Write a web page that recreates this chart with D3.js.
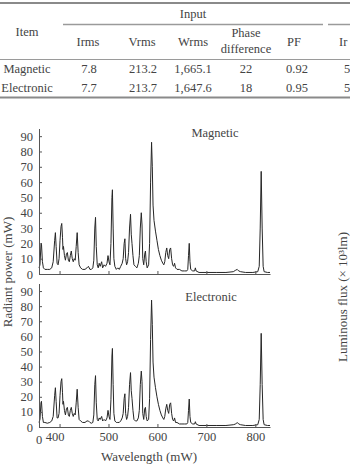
<!DOCTYPE html>
<html>
<head>
<meta charset="utf-8">
<script src="https://cdn.jsdelivr.net/npm/d3@7"></script>
<style>
  html, body { margin: 0; padding: 0; background: #fff; }
  svg { display: block; }
  text { font-family: "Liberation Serif", "Times New Roman", serif; fill: #444; }
</style>
</head>
<body>
<svg id="chart" width="350" height="476"></svg>
<script>
// table contents
const headers = ["Irms", "Vrms", "Wrms", "Phase difference", "PF", "Ir"];
const rowNames = ["Magnetic", "Electronic"];
const rowValues = [
  ["7.8", "213.2", "1,665.1", "22", "0.92", "5"],
  ["7.7", "213.7", "1,647.6", "18", "0.95", "5"]
];

// spectra: [wavelength nm, radiant power mW]
const magnetic = [
  [358,4],[360,6],[362,19],[363,20],[365,8],[367,4],[370,3],[375,3],[380,3],[384,4],
  [387,8],[390,22],[391.5,27],[393,18],[395,7],[397,6],[399,10],[401,22],[403,31],[404.5,33],
  [406,24],[407,16],[408,18],[410,12],[412,9],[414,13],[416,14],[418,9],[420,8],[422,12],
  [424,15],[426,10],[428,8],[430,10],[432,9],[434,18],[436,27],[438,14],[440,6],[443,4],
  [447,3],[452,3],[456,4],[459,5],[462,3],[465,3],[468,4],[470,9],[472,30],[473.5,37],
  [475,18],[477,6],[479,4],[481,7],[483,5],[486,8],[488,4],[491,6],[494,5],[497,7],
  [499,12],[501,8],[503,6],[505,20],[507,50],[508,55],[509.5,30],[511,10],[513,5],[516,3],
  [519,4],[522,3],[525,5],[528,7],[530,10],[532,20],[533.5,23],[535,10],[537,6],[539,8],
  [541,14],[543,30],[545,39],[546.5,26],[548,20],[550,12],[552,6],[555,5],[558,4],[561,7],
  [563,12],[565,30],[567,40],[568.5,32],[570,10],[572,6],[574,13],[575.5,15],[577,8],[579,4],
  [582,6],[584,20],[586,60],[588,86],[589.5,70],[591,45],[593,35],[596,28],[599,22],[602,16],
  [605,12],[608,9],[611,7],[613,6],[615,8],[617,14],[619,17],[621,12],[623,10],[625,16],
  [627,17],[629,10],[631,6],[633,5],[635,7],[637,4],[640,3],[645,3],[650,2],[655,2],
  [660,2],[662,3],[663.5,12],[665,20],[666.5,8],[668,3],[672,2],[676,2],[677.5,4],[679,2],
  [685,1],[700,1],[720,1],[740,1],[755,1.5],[760,2.5],[763,3],[766,2],[770,1.5],[780,1],
  [795,1],[805,1.5],[808,5],[810,30],[812,67],[814,30],[816,5],[818,1.5],[825,1],[830,1]
];
const electronic = [
  [358,3],[360,5],[362,16],[363,17],[365,7],[367,3],[370,3],[375,2.5],[380,3],[384,4],
  [387,7],[390,21],[391.5,26],[393,17],[395,6],[397,6],[399,9],[401,21],[403,30],[404.5,32],
  [406,23],[407,15],[408,17],[410,11],[412,8],[414,12],[416,13],[418,8],[420,7],[422,11],
  [424,13],[426,9],[428,7],[430,9],[432,8],[434,16],[436,25],[438,13],[440,5],[443,4],
  [447,3],[452,3],[456,4],[459,4],[462,3],[465,2.5],[468,3],[470,8],[472,28],[473.5,34],
  [475,16],[477,5],[479,4],[481,6],[483,5],[486,7],[488,4],[491,5],[494,4],[497,6],
  [499,11],[501,7],[503,5],[505,18],[507,47],[508,52],[509.5,28],[511,9],[513,4],[516,3],
  [519,3],[522,3],[525,4],[528,6],[530,9],[532,19],[533.5,22],[535,9],[537,5],[539,7],
  [541,13],[543,28],[545,36],[546.5,24],[548,19],[550,11],[552,5],[555,4],[558,4],[561,6],
  [563,11],[565,28],[567,37],[568.5,30],[570,9],[572,5],[574,12],[575.5,13],[577,7],[579,4],
  [582,5],[584,19],[586,58],[588,84],[589.5,68],[591,43],[593,33],[596,26],[599,20],[602,15],
  [605,11],[608,8],[611,6],[613,5],[615,7],[617,12],[619,15],[621,11],[623,9],[625,15],
  [627,16],[629,9],[631,5],[633,4],[635,6],[637,3],[640,3],[645,2],[650,2],[655,2],
  [660,2],[662,3],[663.5,11],[665,18.5],[666.5,7],[668,3],[672,2],[676,2],[677.5,3.5],[679,2],
  [685,1],[700,1],[720,1],[740,1],[755,1.5],[760,2],[763,3],[766,2],[770,1.5],[780,1],
  [795,1],[805,1.5],[808,5],[810,28],[812,62],[814,28],[816,5],[818,1.5],[825,1],[830,1]
];
const xTicks = [400, 500, 600, 700, 800];
const yTicks = [0, 10, 20, 30, 40, 50, 60, 70, 80, 90];

const svg = d3.select("#chart");

// ---- table ----
const tbl = svg.append("g").attr("class", "table");
const colX = [88, 142, 193, 246, 294, 339];
const valX = [89, 143, 193, 246, 297, 344];

tbl.append("line").attr("x1", 0).attr("x2", 350).attr("y1", 3).attr("y2", 3)
  .attr("stroke", "#8a8a8a").attr("stroke-width", 2);
tbl.append("line").attr("x1", 63).attr("x2", 323).attr("y1", 24.5).attr("y2", 24.5)
  .attr("stroke", "#9a9a9a").attr("stroke-width", 1.5);
tbl.append("line").attr("x1", 328).attr("x2", 350).attr("y1", 24.5).attr("y2", 24.5)
  .attr("stroke", "#9a9a9a").attr("stroke-width", 1.5);
tbl.append("line").attr("x1", 0).attr("x2", 350).attr("y1", 59.5).attr("y2", 59.5)
  .attr("stroke", "#9a9a9a").attr("stroke-width", 1);
tbl.append("line").attr("x1", 0).attr("x2", 350).attr("y1", 97.5).attr("y2", 97.5)
  .attr("stroke", "#8a8a8a").attr("stroke-width", 2);

tbl.append("text").attr("x", 193).attr("y", 18).attr("text-anchor", "middle")
  .style("font-size", "12.5px").text("Input");
tbl.append("text").attr("x", 27).attr("y", 36).attr("text-anchor", "middle")
  .style("font-size", "12.5px").text("Item");

headers.forEach((h, i) => {
  const t = tbl.append("text").attr("x", colX[i])
    .attr("text-anchor", i === 5 ? "start" : "middle").style("font-size", "12.5px");
  if (h === "Phase difference") {
    t.append("tspan").attr("x", colX[i]).attr("y", 37).text("Phase");
    t.append("tspan").attr("x", colX[i]).attr("y", 53).text("difference");
  } else {
    t.attr("y", 46).text(h);
  }
});

rowNames.forEach((name, r) => {
  const y = 72.5 + r * 19;
  tbl.append("text").attr("x", 27).attr("y", y).attr("text-anchor", "middle")
    .style("font-size", "12.5px").text(name);
  rowValues[r].forEach((v, i) => {
    tbl.append("text").attr("x", valX[i]).attr("y", y)
      .attr("text-anchor", i === 5 ? "start" : "middle")
      .style("font-size", "12.5px").text(v);
  });
});

// ---- spectra ----
const x = d3.scaleLinear().domain([358, 830]).range([39, 270]);
const panels = [
  { data: magnetic, label: "Magnetic", y: d3.scaleLinear().domain([0, 95]).range([274, 128.5]), lx: 215, ly: 137 },
  { data: electronic, label: "Electronic", y: d3.scaleLinear().domain([0, 95]).range([427, 283.5]), lx: 211, ly: 301 }
];

panels.forEach((p, i) => {
  const g = svg.append("g");
  const line = d3.line().x(d => x(d[0])).y(d => p.y(d[1]));

  g.append("path").datum(p.data)
    .attr("d", line).attr("fill", "none")
    .attr("stroke", "#262626").attr("stroke-width", 1).attr("stroke-linejoin", "round");

  const yAxis = g.append("g").attr("transform", `translate(${x.range()[0]},0)`)
    .call(d3.axisLeft(p.y).tickValues(yTicks).tickSizeInner(-3).tickSizeOuter(0).tickPadding(6));
  const xAxis = g.append("g").attr("transform", `translate(0,${p.y.range()[0]})`)
    .call(d3.axisBottom(x).tickValues(xTicks).tickSizeInner(-3).tickSizeOuter(0)
      .tickFormat(d => d));

  [yAxis, xAxis].forEach(a => {
    a.attr("font-family", null).attr("font-size", null);
    a.select(".domain").attr("stroke", "#555").attr("stroke-width", 1);
    a.selectAll(".tick line").attr("stroke", "#555");
    a.selectAll(".tick text").style("font-size", "12.5px").attr("fill", "#444");
  });

  if (i === 0) {
    xAxis.selectAll(".tick text").remove();
  } else {
    xAxis.selectAll(".tick text").attr("dy", "0.9em")
      .attr("dx", d => d === 400 ? -5 : 0);
    xAxis.append("text").attr("x", x(358)).attr("y", 6).attr("dy", "0.9em")
      .attr("text-anchor", "middle").style("font-size", "12.5px")
      .text("0");
  }

  g.append("text").attr("x", p.lx).attr("y", p.ly).attr("text-anchor", "middle")
    .style("font-size", "12.5px").text(p.label);
});

// axis titles
svg.append("text").attr("transform", "translate(12,272) rotate(-90)")
  .attr("text-anchor", "middle").style("font-size", "13px").text("Radiant power (mW)");
svg.append("text").attr("transform", "translate(347,297) rotate(-90)")
  .attr("text-anchor", "middle").style("font-size", "13px")
  .text("Luminous flux (\u00d7 10\u00b3lm)");
svg.append("text").attr("x", 149).attr("y", 461).attr("text-anchor", "middle")
  .style("font-size", "13px").text("Wavelength (mW)");
</script>
</body>
</html>
